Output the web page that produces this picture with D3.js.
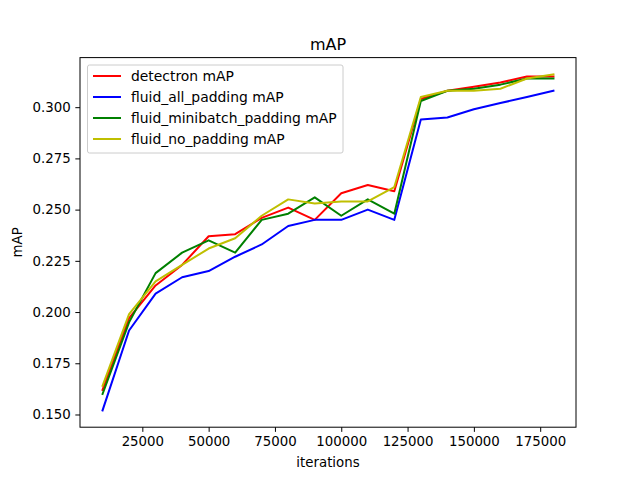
<!DOCTYPE html>
<html>
<head>
<meta charset="utf-8">
<script src="https://cdn.jsdelivr.net/npm/d3@7"></script>
<style>
  body { margin: 0; background: #fff; }
  text { font-family: "DejaVu Sans", sans-serif; fill: #000; }
</style>
</head>
<body>
<div id="chart"></div>
<script>
var iterations = [10000, 20000, 30000, 40000, 50000, 60000, 70000, 80000, 90000,
    100000, 110000, 120000, 130000, 140000, 150000, 160000, 170000, 180000];
var detectron = [0.162, 0.197, 0.213, 0.223, 0.237, 0.238, 0.246, 0.251, 0.245,
    0.258, 0.262, 0.259, 0.304, 0.308, 0.310, 0.312, 0.315, 0.315];
var fluidAllPadding = [0.152, 0.191, 0.209, 0.217, 0.220, 0.227, 0.233, 0.242, 0.245,
    0.245, 0.250, 0.245, 0.294, 0.295, 0.299, 0.302, 0.305, 0.308];
var fluidMinibatchPadding = [0.160, 0.195, 0.219, 0.229, 0.235, 0.229, 0.245, 0.248, 0.256,
    0.247, 0.255, 0.248, 0.303, 0.308, 0.309, 0.311, 0.314, 0.314];
var fluidNoPadding = [0.164, 0.199, 0.215, 0.223, 0.231, 0.236, 0.247, 0.255, 0.253,
    0.254, 0.254, 0.261, 0.305, 0.308, 0.308, 0.309, 0.314, 0.316];
var seriesNames = ['detectron mAP', 'fluid_all_padding mAP', 'fluid_minibatch_padding mAP', 'fluid_no_padding mAP'];
var seriesColors = ['#ff0000', '#0000ff', '#008000', '#bfbf00'];
var xTicks = [25000, 50000, 75000, 100000, 125000, 150000, 175000];
var yTicks = [0.150, 0.175, 0.200, 0.225, 0.250, 0.275, 0.300];

var series = [detectron, fluidAllPadding, fluidMinibatchPadding, fluidNoPadding];

// SVG
var chartWidth = 640;
var chartHeight = 480;
var plotLeft = 80, plotRight = 576, plotTop = 57.6, plotBottom = 427.2;
var svg = d3.select('#chart')
    .append('svg')
    .attr('width', chartWidth)
    .attr('height', chartHeight);

// Scales with 5% margins like matplotlib
var xMin = d3.min(iterations), xMax = d3.max(iterations);
var xPad = (xMax - xMin) * 0.05;
var scaleX = d3.scaleLinear()
    .domain([xMin - xPad, xMax + xPad])
    .range([plotLeft, plotRight]);
var allValues = d3.merge(series);
var yMin = d3.min(allValues), yMax = d3.max(allValues);
var yPad = (yMax - yMin) * 0.05;
var scaleY = d3.scaleLinear()
    .domain([yMin - yPad, yMax + yPad])
    .range([plotBottom, plotTop]);

// Lines
var line = d3.line()
    .x(function(d, i) { return scaleX(iterations[i]); })
    .y(function(d) { return scaleY(d); });
svg.append('g').selectAll('path')
    .data(series)
    .enter()
    .append('path')
    .attr('d', line)
    .attr('fill', 'none')
    .attr('stroke', function(d, i) { return seriesColors[i]; })
    .attr('stroke-width', 2)
    .attr('stroke-linejoin', 'round')
    .attr('stroke-linecap', 'square');

// Axes
var axisX = d3.axisBottom(scaleX)
    .tickValues(xTicks)
    .tickFormat(d3.format('d'))
    .tickSize(4.67)
    .tickPadding(4.67)
    .tickSizeOuter(0);
var gx = svg.append('g')
    .attr('transform', 'translate(0,' + plotBottom + ')')
    .call(axisX);
var axisY = d3.axisLeft(scaleY)
    .tickValues(yTicks)
    .tickFormat(d3.format('.3f'))
    .tickSize(4.67)
    .tickPadding(4.67)
    .tickSizeOuter(0);
var gy = svg.append('g')
    .attr('transform', 'translate(' + plotLeft + ',0)')
    .call(axisY);
[gx, gy].forEach(function(g) {
  g.select('.domain').remove();
  g.selectAll('.tick line').attr('stroke', '#000').attr('stroke-width', 1);
  g.selectAll('.tick text')
      .attr('font-size', 13.33)
      .attr('font-family', 'DejaVu Sans');
});

// Frame
svg.append('rect')
    .attr('x', plotLeft)
    .attr('y', plotTop)
    .attr('width', plotRight - plotLeft)
    .attr('height', plotBottom - plotTop)
    .attr('fill', 'none')
    .attr('stroke', '#000')
    .attr('stroke-width', 1);

// Titles
svg.append('text')
    .text('mAP')
    .attr('x', (plotLeft + plotRight) / 2)
    .attr('y', plotTop - 8)
    .attr('text-anchor', 'middle')
    .attr('font-size', 16);
svg.append('text')
    .text('iterations')
    .attr('x', (plotLeft + plotRight) / 2)
    .attr('y', 467)
    .attr('text-anchor', 'middle')
    .attr('font-size', 13.33);
svg.append('text')
    .text('mAP')
    .attr('transform', 'translate(22,' + (plotTop + plotBottom) / 2 + ') rotate(-90)')
    .attr('text-anchor', 'middle')
    .attr('font-size', 13.33);

// Legend
var legend = svg.append('g');
legend.append('rect')
    .attr('x', 87.5)
    .attr('y', 65)
    .attr('width', 255.5)
    .attr('height', 88)
    .attr('rx', 2)
    .attr('fill', '#fff')
    .attr('fill-opacity', 0.8)
    .attr('stroke', '#ccc')
    .attr('stroke-width', 1);
var items = legend.selectAll('g.item')
    .data(seriesNames)
    .enter()
    .append('g')
    .attr('transform', function(d, i) {
      return 'translate(0,' + (76 + i * 21) + ')';
    });
items.append('line')
    .attr('x1', 93)
    .attr('x2', 121)
    .attr('stroke', function(d, i) { return seriesColors[i]; })
    .attr('stroke-width', 2);
items.append('text')
    .text(function(d) { return d; })
    .attr('x', 131)
    .attr('y', 5)
    .attr('font-size', 13.9);
</script>
</body>
</html>
